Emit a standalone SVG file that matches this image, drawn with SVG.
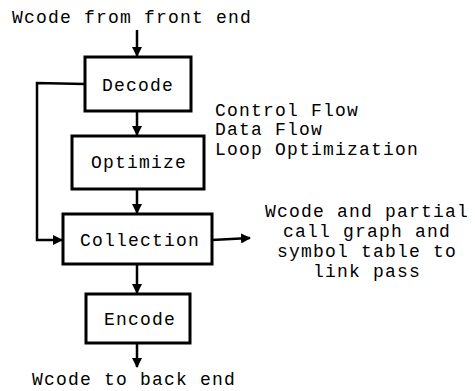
<svg xmlns="http://www.w3.org/2000/svg" width="475" height="391" viewBox="0 0 475 391">
<style>
.box{fill:#fff;stroke:#000;stroke-width:3}
.t{font-family:"Liberation Mono","Courier New",monospace;font-size:18px;letter-spacing:1.2px;fill:#000}
.c{text-anchor:middle}
.ln{fill:none;stroke:#000;stroke-width:2.5}
</style>
<defs>
<marker id="ah" markerWidth="10" markerHeight="10" refX="9" refY="5" orient="auto" markerUnits="userSpaceOnUse">
<path d="M0,0 L10,5 L0,10 Z" fill="#000"/>
</marker>
</defs>
<rect width="475" height="391" fill="#fff"/>
<g id="connectors">
<line class="ln" x1="137" y1="30" x2="137" y2="56" marker-end="url(#ah)"/>
<line class="ln" x1="137" y1="111" x2="137" y2="135" marker-end="url(#ah)"/>
<line class="ln" x1="137" y1="189" x2="137" y2="213" marker-end="url(#ah)"/>
<line class="ln" x1="137" y1="264" x2="137" y2="293" marker-end="url(#ah)"/>
<line class="ln" x1="137" y1="343" x2="137" y2="367" marker-end="url(#ah)"/>
<polyline class="ln" points="85,84 37,83 37,240 62,240" marker-end="url(#ah)"/>
<line class="ln" x1="212" y1="240" x2="250" y2="238" marker-end="url(#ah)"/>
</g>
<g id="input"><text class="t" x="12" y="23">Wcode from front end</text></g>
<g id="decode"><rect class="box" x="85" y="57" width="106" height="54"/><text class="t c" x="138" y="91">Decode</text></g>
<g id="optimize"><rect class="box" x="72" y="136" width="132" height="53"/><text class="t c" x="139" y="168">Optimize</text></g>
<g id="collection"><rect class="box" x="63" y="214" width="149" height="50"/><text class="t c" x="140" y="246">Collection</text></g>
<g id="encode"><rect class="box" x="86" y="294" width="104" height="49"/><text class="t c" x="140" y="325">Encode</text></g>
<g id="opt-notes"><text class="t" x="215" y="116">Control Flow</text><text class="t" x="215" y="135">Data Flow</text><text class="t" x="215" y="155">Loop Optimization</text></g>
<g id="link-notes"><text class="t c" x="367" y="217">Wcode and partial</text><text class="t c" x="367" y="237">call graph and</text><text class="t c" x="367" y="257">symbol table to</text><text class="t c" x="367" y="277">link pass</text></g>
<g id="output"><text class="t" x="32" y="385">Wcode to back end</text></g>
</svg>
